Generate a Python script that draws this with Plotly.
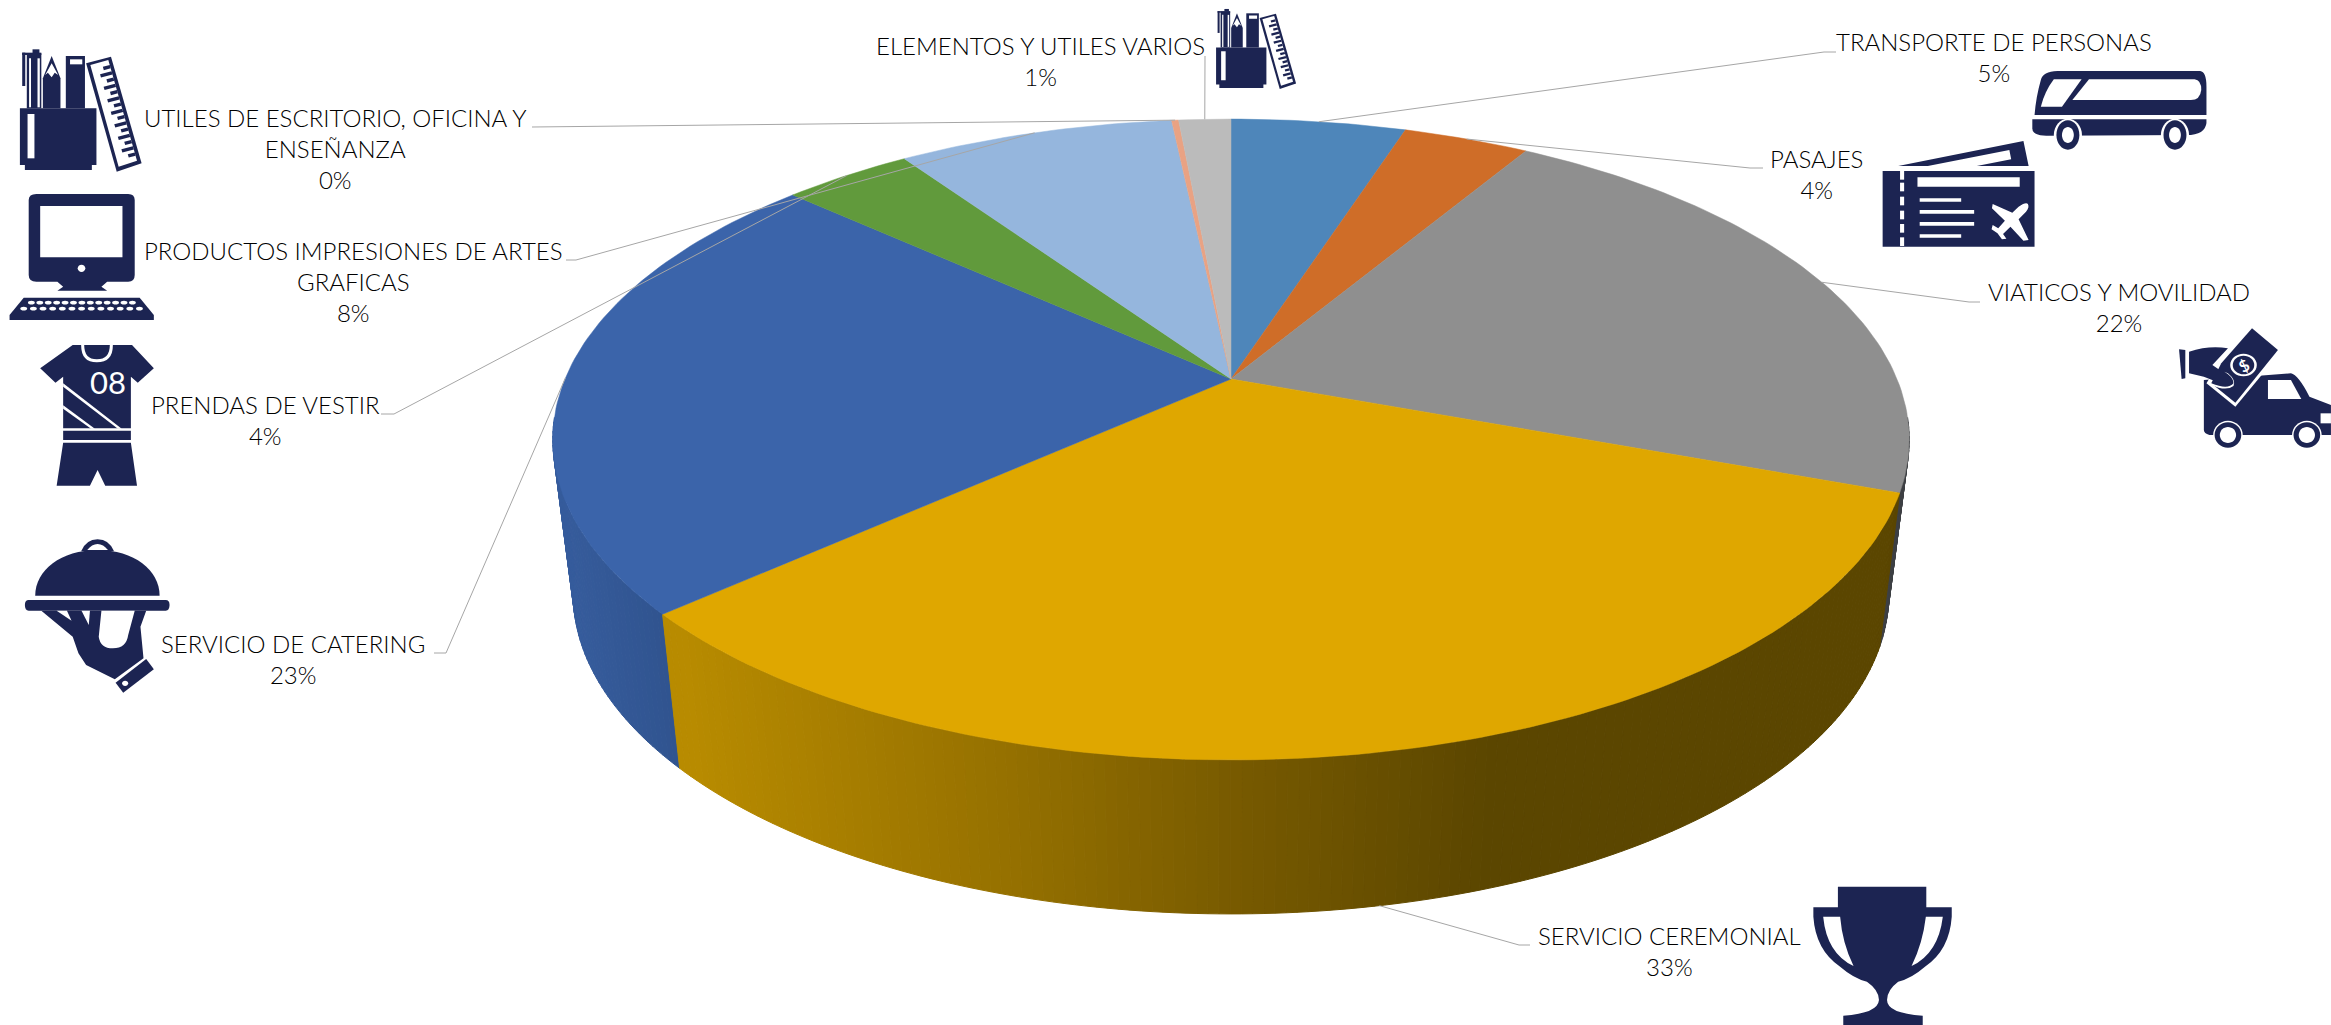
import math, re
import plotly.graph_objects as go

# ---------- data ----------
categories = ["TRANSPORTE DE PERSONAS", "PASAJES", "VIATICOS Y MOVILIDAD", "SERVICIO CEREMONIAL",
              "SERVICIO DE CATERING", "PRENDAS DE VESTIR", "PRODUCTOS IMPRESIONES DE ARTES<br>GRAFICAS",
              "UTILES DE ESCRITORIO, OFICINA Y<br>ENSEÑANZA", "ELEMENTOS Y UTILES VARIOS"]
values = [5.0, 3.6, 22.0, 32.8, 23.3, 3.7, 7.9, 0.2, 1.49]
top_colors = ["#4e86ba", "#cf6d28", "#8f8f8f", "#dfa700", "#3b64aa", "#619a3c", "#95b6dd", "#e9a283", "#bbbbbb"]

# ---------- layout of the labels (pixel positions in the page) ----------
label_xy = [(1994, 57), (1816, 174), (2119, 307), (1669, 951), (293, 659), (265, 420), (353, 281), (335, 148), (1040, 61)]
# leader: stub start, elbow (the far end is worked out from the slice's middle angle)
leader_pts = [[(1836, 52), (1824, 52)], [(1763, 168), (1750, 168)], [(1980, 302), (1969, 302)],
              [(1530, 945), (1519, 945)], [(434, 653), (446, 653)], [(381, 414), (394, 414)],
              [(566, 260), (576, 260)], [(532, 127)], [(1205, 56)]]
NAVY = "#1c2452"
W = "#ffffff"
FONT = "Lato"
FSIZE = 24

# ---------- projection of the disc (slight perspective) ----------
CX, CY = 1231, 379
A, B, K = 666, 309, 0.1888
SX_B, BY = 0.97, 533


def top_pt(deg):
    t = math.radians(deg)
    X, Y = math.sin(t), math.cos(t)
    w = 1 + K * Y
    return CX + A * X / w, CY - B * Y / w


def bot_pt(deg):
    t = math.radians(deg)
    X, Y = math.sin(t), math.cos(t)
    w = 1 + K * Y
    return CX + SX_B * A * X / w, BY - B * Y / w


total = sum(values)
edges = [0]
for v in values:
    edges.append(edges[-1] + v / total * 360)

fig = go.Figure()


def poly(xs, ys, color, width=1):
    fig.add_trace(go.Scatter(x=xs + xs[:1], y=ys + ys[:1], mode="lines", fill="toself", fillcolor=color,
                             line=dict(color=color, width=width), hoverinfo="skip", showlegend=False))


def lerp_stops(x, stops):
    if x <= stops[0][0]:
        return stops[0][1]
    for (x0, c0), (x1, c1) in zip(stops, stops[1:]):
        if x <= x1:
            f = (x - x0) / (x1 - x0)
            return tuple(c0[i] + (c1[i] - c0[i]) * f for i in range(3))
    return stops[-1][1]


wall_shades = {
    2: [(1880, (62, 64, 68)), (1920, (62, 64, 68))],
    3: [(680, (184, 139, 0)), (1000, (150, 113, 0)), (1250, (118, 89, 0)), (1490, (91, 70, 0))],
    4: [(560, (54, 92, 156)), (680, (47, 82, 141))],
}
vis_lo, vis_hi = 97, 263
for idx in (2, 4, 3):
    a0, a1 = max(edges[idx], vis_lo), min(edges[idx + 1], vis_hi)
    n = max(2, int((a1 - a0) / 0.8))
    for j in range(n):
        s, e = a0 + (a1 - a0) * j / n, a0 + (a1 - a0) * (j + 1) / n
        p = [top_pt(s), top_pt(e), bot_pt(e), bot_pt(s)]
        c = lerp_stops((p[0][0] + p[1][0]) / 2, wall_shades[idx])
        col = "rgb(%d,%d,%d)" % tuple(round(v) for v in c)
        poly([q[0] for q in p], [q[1] for q in p], col, 1)

for i, col in enumerate(top_colors):
    n = max(3, int(edges[i + 1] - edges[i]))
    arc = [top_pt(edges[i] + (edges[i + 1] - edges[i]) * j / n) for j in range(n + 1)]
    poly([CX] + [q[0] for q in arc], [CY] + [q[1] for q in arc], col, 0.5)

# leader lines
for i, pts in enumerate(leader_pts):
    mid = (edges[i] + edges[i + 1]) / 2
    end = bot_pt(mid) if 100 < mid < 260 else top_pt(mid)
    all_pts = pts + [end]
    fig.add_trace(go.Scatter(x=[q[0] for q in all_pts], y=[q[1] for q in all_pts], mode="lines",
                             line=dict(color="#a6a6a6", width=1), hoverinfo="skip", showlegend=False))

annotations = []
for name, v, (lx, ly) in zip(categories, values, label_xy):
    annotations.append(dict(x=lx, y=ly, xref="x", yref="y", text=f"{name}<br>{round(v / total * 100)}%",
                            showarrow=False, xanchor="center", yanchor="middle", align="center",
                            font=dict(family=FONT, size=FSIZE, color="#000000", weight=300)))
annotations.append(dict(x=108, y=382, xref="x", yref="y", text="08", showarrow=False,
                        font=dict(family=FONT, size=31, color=W, weight=400)))

# ---------- icons ----------
shapes = []


def rect(x0, y0, x1, y1):
    return f"M{x0},{y0} L{x1},{y0} L{x1},{y1} L{x0},{y1} Z"


def circ(cx, cy, rx, ry):
    kx, ky = rx * 0.5523, ry * 0.5523
    return (f"M{cx-rx},{cy} C{cx-rx},{cy-ky} {cx-kx},{cy-ry} {cx},{cy-ry} C{cx+kx},{cy-ry} {cx+rx},{cy-ky} {cx+rx},{cy} "
            f"C{cx+rx},{cy+ky} {cx+kx},{cy+ry} {cx},{cy+ry} C{cx-kx},{cy+ry} {cx-rx},{cy+ky} {cx-rx},{cy} Z")


def icon(parts, ox, oy, sx, sy):
    for d, color in parts:
        out, is_x = [], True
        for tok in re.findall(r"[MLQCZ]|-?\d+\.?\d*", d):
            if tok.isalpha():
                out.append(tok)
            else:
                out.append(f"{(ox + float(tok) * sx) if is_x else (oy + float(tok) * sy):.2f}")
                is_x = not is_x
        path = " ".join(out)
        shapes.append(dict(type="path", path=path, xref="x", yref="y", fillcolor=color, line=dict(width=0), layer="above"))


# pens, pencil, book and ruler in a cup
ruler_ticks = []
for n in range(15):
    f = 0.05 + n * 0.062
    x1, y1 = 283 + (358 - 283) * f, 180 + (482 - 180) * f
    ln = 30 if n % 2 else 18
    ruler_ticks.append((f"M{x1:.1f},{y1:.1f} L{x1-ln:.1f},{y1+ln*0.3:.1f} L{x1-ln+2.5:.1f},{y1+ln*0.3+10:.1f} L{x1+2.5:.1f},{y1+10:.1f} Z", NAVY))
stationery = [
    ("M52,325 L252,325 L252,495 L240,495 L240,510 L65,510 L65,495 L52,495 Z", NAVY),
    (rect(72, 342, 90, 475), W),
    (rect(70, 160, 108, 325), NAVY), (rect(85, 148, 103, 160), NAVY), (rect(58, 158, 66, 258), NAVY),
    (rect(58, 158, 108, 165), NAVY),
    (rect(76, 175, 81, 322), W), (rect(98, 175, 104, 322), W),
    ("M112,235 L135,168 L158,235 L158,325 L112,325 Z", NAVY),
    ("M118,225 L135,190 L152,225 L143,218 L135,232 L125,218 Z", W),
    (rect(172, 168, 222, 325), NAVY), (rect(183, 178, 215, 193), W),
    ("M225,190 L290,170 L370,490 L305,515 Z", NAVY),
    ("M236,195 L283,180 L358,482 L310,500 Z", W),
] + ruler_ticks
icon(stationery, 0, 0, 0.3827, 1 / 3)
icon(stationery, 1203, -23.3, 0.2516, 0.218)

# computer
keys = []
for r, y in enumerate((908, 926)):
    for n in range(13):
        keys.append((circ(82 + r * -20 + n * (22 + r * 3.2), y, 9, 5.5), W))
icon([
    ("M95,582 L335,582 Q352,582 352,600 L352,825 Q352,845 335,845 L280,845 L265,860 L280,872 L150,872 L165,860 L150,845 L95,845 Q75,845 75,825 L75,600 Q75,582 95,582 Z", NAVY),
    (rect(105, 618, 320, 772), W),
    (circ(213, 805, 10, 11), W),
    ("M62,893 L365,893 L402,945 L402,960 L25,960 L25,945 Z", NAVY),
] + keys, 0, 0, 0.3827, 1 / 3)

# shirt and shorts
icon([
    ("M190,1035 L345,1035 L402,1105 L360,1148 L342,1130 L342,1285 L165,1285 L165,1130 L145,1148 L105,1105 Z", NAVY),
    ("M212,1035 L295,1035 Q295,1087 253,1087 Q212,1087 212,1035 Z", W),
    ("M220,1035 L287,1035 Q287,1078 253,1078 Q220,1078 220,1035 Z", NAVY),
    ("M165,1150 L318,1286 L308,1286 L165,1160 Z", W),
    ("M165,1216 L248,1286 L238,1286 L165,1226 Z", W),
    (rect(165, 1292, 342, 1320), NAVY),
    ("M165,1328 L342,1328 L358,1457 L275,1457 L255,1410 L235,1457 L148,1457 Z", NAVY),
], 0, 0, 0.3827, 1 / 3)

# waiter's hand with dish
icon([
    ("M92,347 C92,270 160,210 255,210 C350,210 417,270 417,347 Z", NAVY),
    ("M212,214 Q225,178 255,178 Q285,178 298,214 Z", NAVY),
    ("M228,210 Q240,192 255,192 Q270,192 282,210 Z", W),
    ("M75,360 L433,360 Q443,360 443,375 Q443,392 433,392 L75,392 Q65,392 65,375 Q65,360 75,360 Z", NAVY),
    ("M108,392 L382,392 L367,440 L375,535 L300,598 L225,555 L205,520 L190,470 Z", NAVY),
    ("M265,392 L258,470 Q262,505 295,505 Q330,505 335,465 L352,392 Z", W),
    ("M148,392 L175,392 L187,422 Z", W),
    ("M213,392 L235,392 L232,435 Z", W),
    ("M382,537 L402,568 L322,638 L302,608 Z", NAVY),
    (circ(327, 610, 8, 8), W),
], 0, 480, 0.3827, 1 / 3)

# bus
icon([
    ("M785,240 Q790,215 830,213 L1215,213 Q1232,215 1232,260 L1232,345 L768,345 Q772,290 785,240 Z", NAVY),
    ("M762,358 L1232,358 Q1235,400 1190,405 L800,407 Q762,407 762,385 Z", NAVY),
    ("M915,238 L1200,238 Q1218,240 1218,270 Q1215,300 1190,300 L870,300 Z", W),
    ("M820,238 L895,238 L842,320 L785,320 Q795,275 820,238 Z", W),
    (circ(858, 405, 38, 49), W), (circ(858, 405, 31, 44), NAVY), (circ(858, 405, 16, 24), W),
    (circ(1147, 405, 38, 49), W), (circ(1147, 405, 31, 44), NAVY), (circ(1147, 405, 16, 24), W),
], 1750, 0, 0.3705, 1 / 3)

# ticket
icon([
    ("M400,498 L738,423 L752,498 L612,498 L705,478 L700,450 L480,498 Z", NAVY),
    (rect(358, 513, 768, 740), NAVY),
    (rect(452, 532, 728, 560), W),
    (rect(458, 595, 570, 605), W), (rect(458, 630, 605, 641), W), (rect(458, 666, 605, 677), W), (rect(458, 703, 570, 713), W),
] + [(rect(405, y, 416, y + 26), W) for y in (513, 548, 590, 632, 672, 712)] + [
    ("M750,612 Q745,605 725,620 L708,638 L655,612 L653,625 L688,662 L670,685 L655,675 L652,688 L668,700 L680,718 L692,716 L683,702 L703,680 L738,722 L752,720 L725,658 L745,635 Q755,622 750,612 Z", W),
], 1750, 0, 0.3705, 1 / 3)

# truck and banknote
icon([
    ("M1225,1140 L1460,1120 Q1480,1125 1510,1190 L1568,1215 L1568,1305 L1240,1305 Q1225,1300 1225,1290 Z", NAVY),
    ("M1398,1140 L1460,1140 L1488,1197 L1398,1197 Z", W),
    (rect(1540, 1240, 1568, 1270), W),
    (circ(1290, 1305, 40, 43), W), (circ(1290, 1305, 36, 38), NAVY), (circ(1290, 1305, 22, 24), W),
    (circ(1503, 1305, 40, 43), W), (circ(1503, 1305, 36, 38), NAVY), (circ(1503, 1305, 22, 24), W),
    ("M1355,975 L1437,1050 L1310,1220 L1232,1150 L1265,1090 Z", W),
    ("M1355,985 L1425,1050 L1310,1208 L1245,1150 L1272,1090 Z", NAVY),
    (circ(1332, 1095, 36, 34), W), (circ(1332, 1095, 29, 28), NAVY),
    ("M1158,1048 L1175,1050 L1175,1135 L1165,1137 Z", NAVY),
    ("M1185,1055 Q1240,1035 1290,1045 L1248,1095 L1300,1135 Q1305,1165 1270,1150 L1225,1130 L1185,1120 Z", NAVY),
    ("M1245,1150 Q1290,1170 1305,1150 Q1305,1130 1280,1115 L1290,1120 Q1312,1140 1305,1158 Q1285,1175 1245,1155 Z", W),
], 1750, 0, 0.3705, 1 / 3)
annotations.append(dict(x=1750 + 1332 * 0.3705, y=1095 / 3, xref="x", yref="y", text="$", showarrow=False, textangle=-30,
                        font=dict(family=FONT, size=16, color=W, weight=700)))

# trophy
icon([
    ("M1205,110 L1403,110 L1403,172 L1460,172 L1460,200 Q1455,300 1400,350 Q1370,385 1340,395 Q1315,420 1315,450 "
     "Q1315,490 1395,497 L1395,525 L1217,525 L1217,497 Q1295,490 1297,450 Q1297,420 1270,395 Q1240,385 1210,350 "
     "Q1155,300 1150,200 L1150,172 L1205,172 Z", NAVY),
    ("M1172,200 L1210,200 Q1215,280 1240,348 Q1180,310 1172,200 Z", W),
    ("M1440,200 L1402,200 Q1395,280 1370,348 Q1430,310 1440,200 Z", W),
], 1300, 850, 0.4464, 1 / 3)

fig.update_layout(
    width=2331, height=1025, margin=dict(l=0, r=0, t=0, b=0), paper_bgcolor="white", plot_bgcolor="white",
    xaxis=dict(range=[0, 2331], visible=False, fixedrange=True),
    yaxis=dict(range=[1025, 0], visible=False, fixedrange=True),
    showlegend=False, annotations=annotations, shapes=shapes,
)
fig.write_html("out.html", post_script="document.body.style.margin='0';", config={"displayModeBar": False})
